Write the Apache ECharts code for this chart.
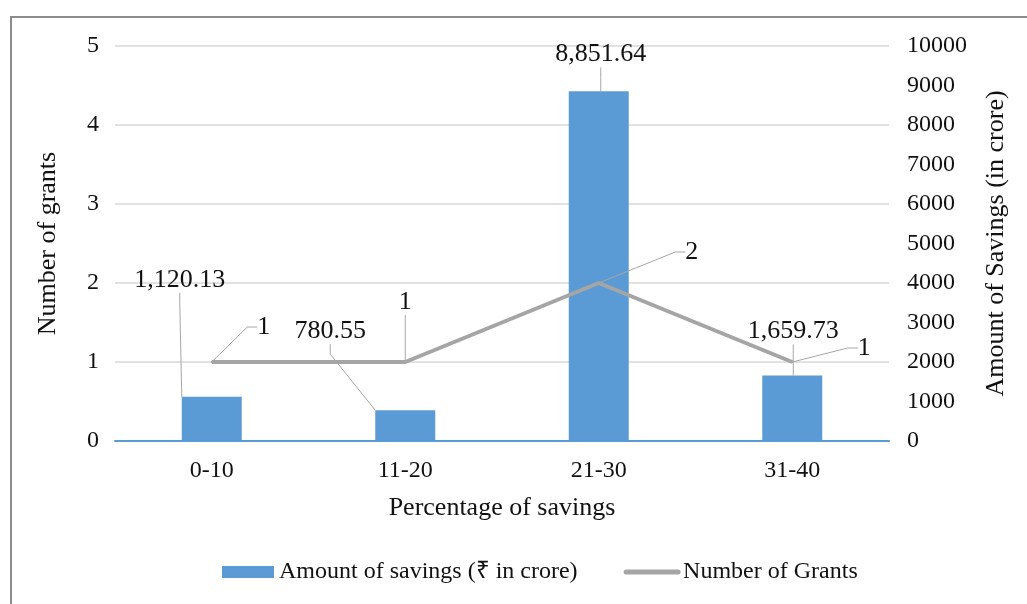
<!DOCTYPE html>
<html>
<head>
<meta charset="utf-8">
<script src="https://cdn.jsdelivr.net/npm/echarts@6/dist/echarts.min.js"></script>
<style>
  html, body { margin: 0; padding: 0; background: #fff; }
  #chart { width: 1027px; height: 604px; }
</style>
</head>
<body>
<div id="chart"></div>
<script>
// Savings bands and their values
const categories = ['0-10', '11-20', '21-30', '31-40'];
const savingsAmount = [1120.13, 780.55, 8851.64, 1659.73];   // ₹ in crore
const grantCount = [1, 1, 2, 1];

const savingsName = 'Amount of savings (₹ in crore)';
const grantsName = 'Number of Grants';

// Callout offsets for the data labels (pixels, relative to default 'top' placement)
const savingsLabelShift = [[-32, -99], [-75, -61], [2, -19], [1, -26]];
const grantsLabelShift = [[52, -16], [0, -41], [93, -12], [72, 5]];

const FONT = 'Liberation Serif';
const TEXT = '#111';
const FS = 26;       // titles and data labels
const FS_TICK = 24;  // tick labels and legend

const chart = echarts.init(document.getElementById('chart'), null, { renderer: 'canvas' });

const fmtAmount = v => v.toLocaleString('en-US', { minimumFractionDigits: 2, maximumFractionDigits: 2 });

chart.setOption({
  backgroundColor: '#fff',
  textStyle: { fontFamily: FONT, color: TEXT },
  graphic: [{
    type: 'rect',
    shape: { x: 11, y: 17, width: 1200, height: 800 },
    style: { fill: 'none', stroke: '#8c8c8c', lineWidth: 2 },
    silent: true
  }],
  grid: { left: 115, right: 138, top: 46, bottom: 163 },
  legend: {
    bottom: 15,
    left: 217,
    itemWidth: 52,
    itemHeight: 12,
    itemGap: 46,
    textStyle: { fontFamily: FONT, fontSize: FS_TICK, color: TEXT },
    data: [
      { name: savingsName, icon: 'rect' },
      { name: grantsName, itemStyle: { opacity: 0 },
        lineStyle: { color: '#a5a5a5', width: 5, cap: 'round' } }
    ]
  },
  xAxis: {
    type: 'category',
    data: categories,
    name: 'Percentage of savings',
    nameLocation: 'middle',
    nameGap: 54,
    nameTextStyle: { fontFamily: FONT, fontSize: FS, color: TEXT },
    axisLine: { show: true, lineStyle: { color: '#5b9bd5', width: 2 } },
    axisTick: { show: false },
    axisLabel: { fontFamily: FONT, fontSize: FS_TICK, color: TEXT, margin: 18 }
  },
  yAxis: [{
    type: 'value',
    min: 0, max: 5, interval: 1,
    name: 'Number of grants',
    nameLocation: 'middle',
    nameGap: 54,
    nameRotate: 90,
    nameTextStyle: { fontFamily: FONT, fontSize: FS, color: TEXT },
    axisLine: { show: false },
    axisTick: { show: false },
    axisLabel: { fontFamily: FONT, fontSize: FS_TICK, color: TEXT, margin: 16 },
    splitLine: { lineStyle: { color: '#d9d9d9', width: 1.5 } }
  }, {
    type: 'value',
    position: 'right',
    min: 0, max: 10000, interval: 1000,
    name: 'Amount of Savings (in crore)',
    nameLocation: 'middle',
    nameGap: 94,
    nameRotate: 90,
    nameTextStyle: { fontFamily: FONT, fontSize: FS, color: TEXT },
    axisLine: { show: false },
    axisTick: { show: false },
    axisLabel: { fontFamily: FONT, fontSize: FS_TICK, color: TEXT, margin: 18, align: 'left',
                 formatter: v => String(v) },
    splitLine: { show: false }
  }],
  series: [{
    name: savingsName,
    type: 'bar',
    yAxisIndex: 1,
    data: savingsAmount,
    barWidth: 60,
    itemStyle: { color: '#5b9bd5' },
    label: {
      show: true,
      position: 'top',
      fontFamily: FONT, fontSize: FS, color: TEXT,
      formatter: p => fmtAmount(p.value)
    },
    labelLine: { show: true, length2: 10, lineStyle: { color: '#a6a6a6', width: 1 } },
    labelLayout: p => ({ dx: savingsLabelShift[p.dataIndex][0], dy: savingsLabelShift[p.dataIndex][1] }),
    z: 2
  }, {
    name: grantsName,
    type: 'line',
    yAxisIndex: 0,
    data: grantCount,
    symbol: 'circle',
    symbolSize: 2,
    itemStyle: { color: '#a5a5a5' },
    lineStyle: { color: '#a5a5a5', width: 4 },
    label: {
      show: true,
      position: 'top',
      fontFamily: FONT, fontSize: FS, color: TEXT
    },
    labelLine: { show: true, length2: 10, lineStyle: { color: '#a6a6a6', width: 1 } },
    labelLayout: p => ({ dx: grantsLabelShift[p.dataIndex][0], dy: grantsLabelShift[p.dataIndex][1] }),
    z: 3
  }]
});
</script>
</body>
</html>
